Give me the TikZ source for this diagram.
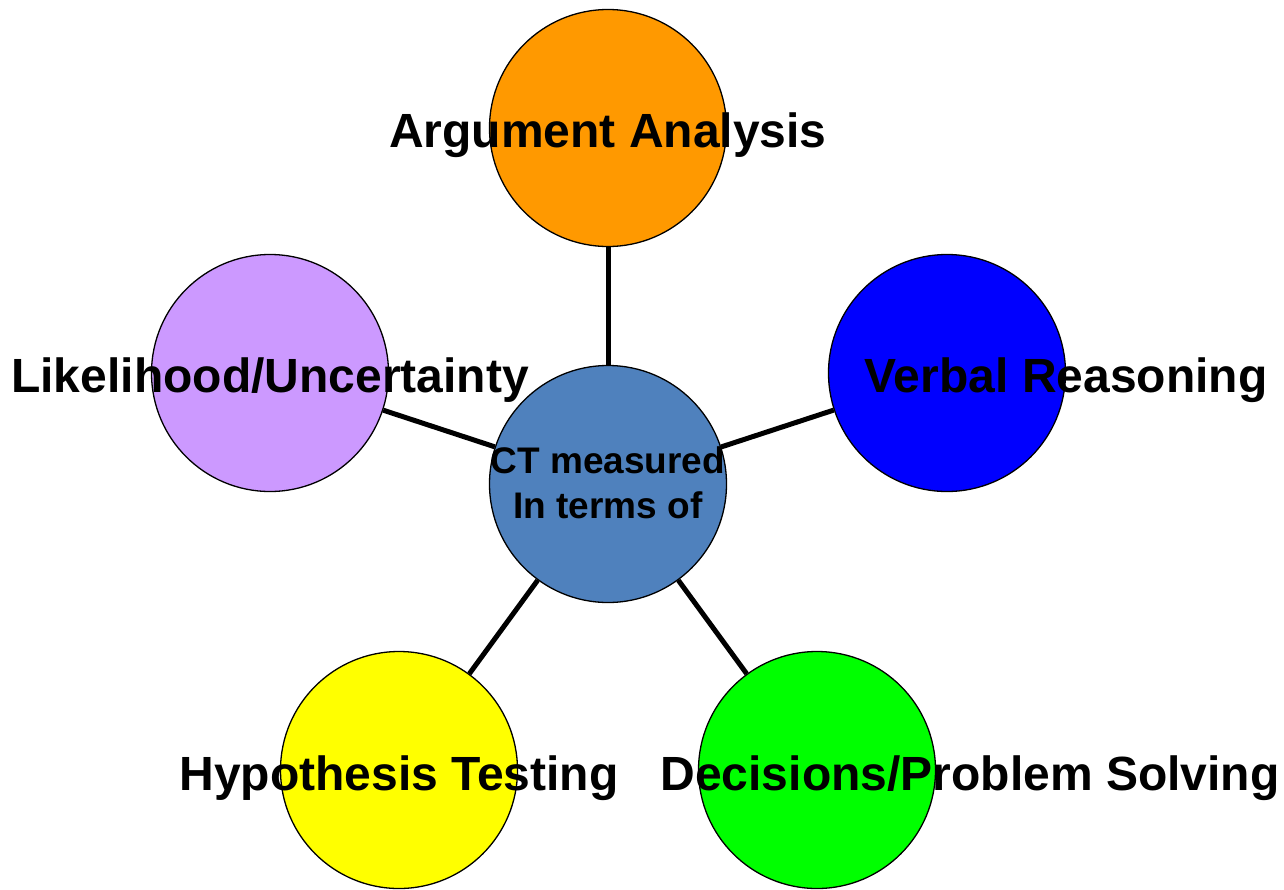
\documentclass[tikz,border=0pt]{standalone}
\usepackage{fontspec}
\setmainfont{Liberation Sans}
\definecolor{corange}{HTML}{FF9900}
\definecolor{cblue}{HTML}{0000FF}
\definecolor{cpurple}{HTML}{CC99FF}
\definecolor{cyellow}{HTML}{FFFF00}
\definecolor{cgreen}{HTML}{00FF00}
\definecolor{ccenter}{HTML}{4F81BD}
\begin{document}
\begin{tikzpicture}[x=1pt,y=-1pt,
  ball/.style={circle,draw=black,line width=1.3pt,minimum size=237pt,inner sep=0pt},
  link/.style={line width=5pt,black},
  lbl/.style={font=\fontsize{48}{56}\selectfont\bfseries,anchor=base,inner sep=0pt}]
\useasboundingbox (0,0) rectangle (1284,889);
\node[ball,fill=corange] (top) at (608,128) {};
\node[ball,fill=cblue] (right) at (947,373) {};
\node[ball,fill=cpurple] (left) at (270,373) {};
\node[ball,fill=cyellow] (bl) at (399,770) {};
\node[ball,fill=cgreen] (br) at (817,770) {};
\node[ball,fill=ccenter] (c) at (608,484) {};
\draw[link] (c) -- (top);
\draw[link] (c) -- (right);
\draw[link] (c) -- (left);
\draw[link] (c) -- (bl);
\draw[link] (c) -- (br);
\node[lbl] (ttop) at (608,147) {Argument Analysis};
\node[lbl] (tright) at (1066,392) {Verbal Reasoning};
\node[lbl] (tleft) at (270,392) {Likelihood/Uncertainty};
\node[lbl] (tbl) at (399,790) {Hypothesis Testing};
\node[lbl] (tbr) at (970,790) {Decisions/Problem Solving};
\node[font=\fontsize{37}{45}\selectfont\bfseries,align=center,inner sep=0pt,anchor=base] (tc) at (608,518) {CT measured\\In terms of};
\end{tikzpicture}
\end{document}
